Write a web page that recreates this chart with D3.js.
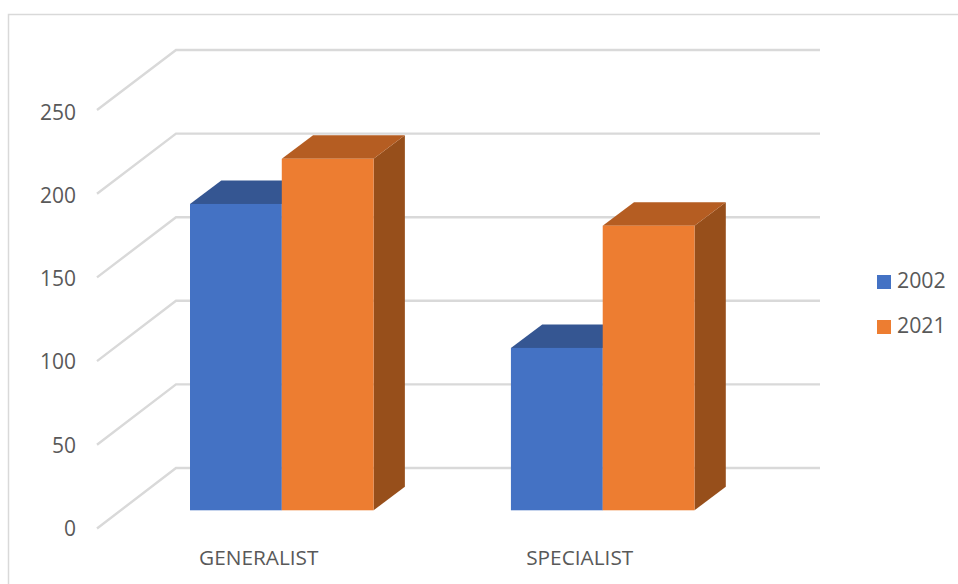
<!DOCTYPE html>
<html>
<head>
<meta charset="utf-8">
<script src="https://cdnjs.cloudflare.com/ajax/libs/d3/7.8.5/d3.min.js"></script>
<style>
html,body{margin:0;padding:0;background:#fff;overflow:hidden}
svg{display:block}
text{font-family:"Open Sans",sans-serif;fill:#595959}
</style>
</head>
<body>
<svg id="c" width="958" height="584"></svg>
<script>
const categories = ["GENERALIST", "SPECIALIST"];
const seriesNames = ["2002", "2021"];
const values2002 = [183, 97];
const values2021 = [210, 170];
const yTicks = [0, 50, 100, 150, 200, 250];

const colors = {
  "2002": {front:"#4472c4", top:"#355692", side:"#2f4d85"},
  "2021": {front:"#ed7d31", top:"#b55d22", side:"#974f1b"}
};
const seriesValues = {"2002": values2002, "2021": values2021};

const svg = d3.select("#c");

// frame
svg.append("path").attr("d","M8.5,584V14.5H958").attr("fill","none").attr("stroke","#d9d9d9").attr("stroke-width",1.5);

const dom = [0,250];
const yFront = d3.scaleLinear().domain(dom).range([528.5,110]);
const yBack  = d3.scaleLinear().domain(dom).range([468,50]);
const yBar   = d3.scaleLinear().domain(dom).range([510.3,91.8]);
const yLabel = d3.scaleLinear().domain(dom).range([535.5,119]);
const xLeftFront = 97, xLeftBack = 176, xRight = 820;
const depth = {dx:31.3, dy:-23.5};

const x0 = d3.scaleBand().domain(categories).range([190,694.5]).paddingInner(0.428).paddingOuter(0);
const x1 = d3.scaleBand().domain(seriesNames).range([0,x0.bandwidth()]);

// walls
const grid = svg.append("g").attr("fill","none").attr("stroke","#d9d9d9").attr("stroke-width",2.4);
grid.selectAll("path").data(yTicks).join("path")
  .attr("d",d=>`M${xLeftFront},${yFront(d)}L${xLeftBack},${yBack(d)}H${xRight}`);

// bars, back to front
const bars = svg.append("g");
const rows = categories.flatMap((c,i)=>seriesNames.map(s=>({c,s,v:seriesValues[s][i]})));
rows.forEach(r=>{
  const x = x0(r.c)+x1(r.s), w = x1.bandwidth(), t = yBar(r.v), b = yBar(0);
  const col = colors[r.s], dx = depth.dx, dy = depth.dy;
  const g = bars.append("g");
  g.append("path").attr("fill",col.side)
    .attr("d",`M${x+w},${t}L${x+w+dx},${t+dy}V${b+dy}L${x+w},${b}Z`);
  g.append("path").attr("fill",col.top)
    .attr("d",`M${x},${t}L${x+dx},${t+dy}H${x+w+dx}L${x+w},${t}Z`);
  g.append("rect").attr("fill",col.front).attr("x",x).attr("y",t).attr("width",w).attr("height",b-t);
});

// y axis labels
const yAxis = svg.append("g").attr("transform","translate(76,0)")
  .call(d3.axisLeft(yLabel).tickValues(yTicks).tickSize(0).tickPadding(0));
yAxis.select(".domain").remove();
yAxis.selectAll("text").attr("font-size",21).attr("dy",0)
  .style("font-family",'"Open Sans",sans-serif').attr("fill","#595959");

// x axis labels
const xAxis = svg.append("g").attr("transform","translate(-23,565)")
  .call(d3.axisBottom(x0).tickSize(0).tickPadding(0));
xAxis.select(".domain").remove();
xAxis.selectAll("text").attr("font-size",20.8).attr("dy",0)
  .style("font-family",'"Open Sans",sans-serif').attr("fill","#595959");

// legend
const lg = d3.scaleBand().domain(seriesNames).range([259,349]);
const leg = svg.append("g").selectAll("g").data(seriesNames).join("g")
  .attr("transform",d=>`translate(877,${lg(d)})`);
leg.append("rect").attr("y",16).attr("width",14).attr("height",14).attr("fill",d=>colors[d].front);
leg.append("text").attr("x",20).attr("y",29).attr("font-size",21.3).text(d=>d);
</script>
</body>
</html>
